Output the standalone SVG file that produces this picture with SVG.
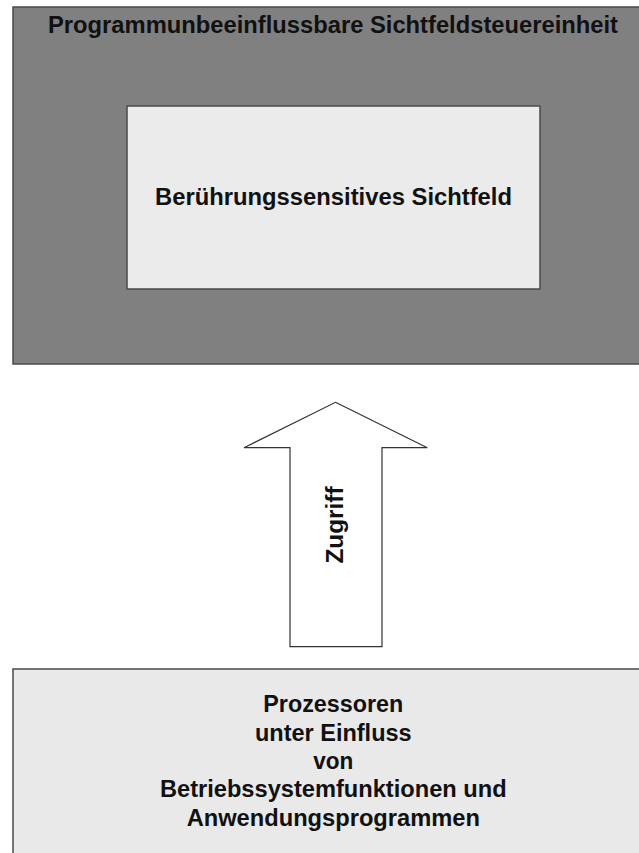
<svg xmlns="http://www.w3.org/2000/svg" width="639" height="853" viewBox="0 0 639 853">
<style>
  .lbl { font-family: "Liberation Sans", Arial, sans-serif; font-weight: bold; font-size: 23px; fill: #111; text-anchor: middle; }
  .box { stroke: #4a4a4a; stroke-width: 1.5; }
</style>
<rect width="639" height="853" fill="#ffffff"/>
<g id="outer">
  <rect class="box" x="13" y="7" width="660" height="357" fill="#808080"/>
  <text class="lbl" x="333" y="33.3" textLength="570" lengthAdjust="spacingAndGlyphs">Programmunbeeinflussbare Sichtfeldsteuereinheit</text>
</g>
<g id="inner">
  <rect class="box" x="127" y="106" width="413" height="183" fill="#ebebeb"/>
  <text class="lbl" x="333.5" y="204.5" textLength="357" lengthAdjust="spacingAndGlyphs">Berührungssensitives Sichtfeld</text>
</g>
<g id="connectors">
  <polygon points="335.5,402.3 427.3,447.7 382,447.7 382,646.7 290,646.7 290,447.7 244,447.7" fill="#ffffff" stroke="#333" stroke-width="1.2"/>
  <text class="lbl" transform="translate(342.5,525) rotate(-90)" x="0" y="0" textLength="77" lengthAdjust="spacingAndGlyphs">Zugriff</text>
</g>
<g id="bottom">
  <rect class="box" x="13" y="669" width="660" height="200" fill="#e9e9e9"/>
  <text class="lbl" x="333.3" y="711.7" textLength="140" lengthAdjust="spacingAndGlyphs">Prozessoren</text>
  <text class="lbl" x="333.3" y="740.7" textLength="156.7" lengthAdjust="spacingAndGlyphs">unter Einfluss</text>
  <text class="lbl" x="333.3" y="769" textLength="40" lengthAdjust="spacingAndGlyphs">von</text>
  <text class="lbl" x="333.3" y="797.3" textLength="346.7" lengthAdjust="spacingAndGlyphs">Betriebssystemfunktionen und</text>
  <text class="lbl" x="333.3" y="826" textLength="293.3" lengthAdjust="spacingAndGlyphs">Anwendungsprogrammen</text>
</g>
</svg>
